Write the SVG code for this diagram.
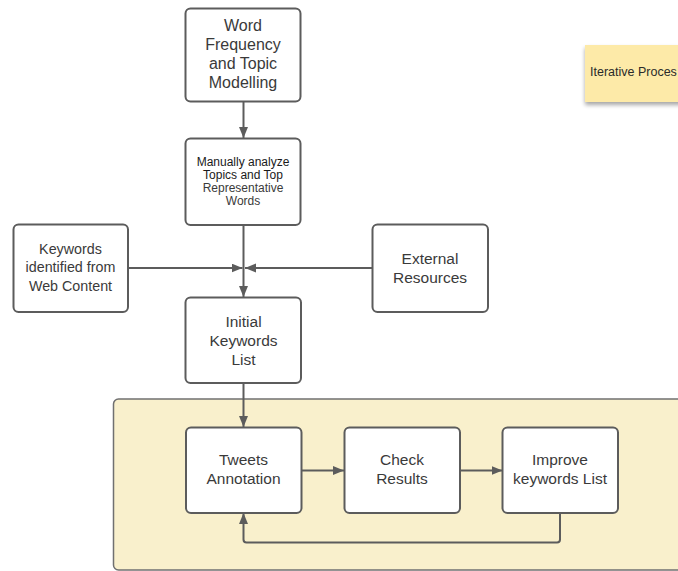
<svg xmlns="http://www.w3.org/2000/svg" width="678" height="571" viewBox="0 0 678 571">
  <defs>
    <marker id="arrow" markerUnits="userSpaceOnUse" markerWidth="12" markerHeight="10" refX="11" refY="4.5" orient="auto">
      <path d="M0,0 L11,4.5 L0,9 Z" fill="#5c5c5c"/>
    </marker>
    <filter id="noteShadow" x="-10%" y="-20%" width="120%" height="150%">
      <feGaussianBlur in="SourceAlpha" stdDeviation="2"/>
      <feOffset dx="0" dy="3"/>
      <feComponentTransfer><feFuncA type="linear" slope="0.35"/></feComponentTransfer>
      <feMerge><feMergeNode/><feMergeNode in="SourceGraphic"/></feMerge>
    </filter>
  </defs>
  <style>
    .box { fill: #ffffff; stroke: #5c5c5c; stroke-width: 2; }
    .lbl { font-family: "Liberation Sans", Arial, sans-serif; font-size: 15.5px; fill: #3a3a3a; text-anchor: middle; dominant-baseline: central; }
    .small { font-size: 12px; }
    .dark { fill: #1a1a1a; }
    .mid { font-size: 14.3px; }
    .conn { fill: none; stroke: #5c5c5c; stroke-width: 2; }
  </style>

  <rect width="678" height="571" fill="#ffffff"/>

  <!-- iteration container -->
  <g id="iteration-area">
    <rect x="113.5" y="399" width="580" height="171" rx="5" fill="#f9f0cc" stroke="#707070" stroke-width="1.5"/>
  </g>

  <!-- sticky note -->
  <g id="note-iterative">
    <rect x="585" y="45" width="100" height="57" fill="#fdeaa8" filter="url(#noteShadow)"/>
    <text x="590" y="72" class="lbl" style="text-anchor:start;font-size:12.5px;fill:#2a2a2a">Iterative Proces</text>
  </g>

  <g id="connectors">
    <path class="conn" d="M243.5,101.5 V138" marker-end="url(#arrow)"/>
    <path class="conn" d="M243.5,225 V297" marker-end="url(#arrow)"/>
    <path class="conn" d="M128,268 H242.5" marker-end="url(#arrow)"/>
    <path class="conn" d="M372,268 H245" marker-end="url(#arrow)"/>
    <path class="conn" d="M243.5,383 V427" marker-end="url(#arrow)"/>
    <path class="conn" d="M302,470.5 H344" marker-end="url(#arrow)"/>
    <path class="conn" d="M460,470.5 H502.5" marker-end="url(#arrow)"/>
    <path class="conn" d="M560,513 V539.5 Q560,542.5 557,542.5 H246.5 Q243.5,542.5 243.5,539.5 V513" marker-end="url(#arrow)"/>
  </g>

  <g id="word-frequency">
    <rect class="box" x="185.5" y="8.5" width="115" height="93" rx="5"/>
    <text class="lbl" style="font-size:16px" x="243" y="25">Word</text>
    <text class="lbl" style="font-size:16px" x="243" y="44">Frequency</text>
    <text class="lbl" style="font-size:16px" x="243" y="63">and Topic</text>
    <text class="lbl" style="font-size:16px" x="243" y="82">Modelling</text>
  </g>

  <g id="manual-analysis">
    <rect class="box" x="185.5" y="138.5" width="115" height="86.5" rx="5"/>
    <text class="lbl small dark" x="243" y="162">Manually analyze</text>
    <text class="lbl small dark" x="243" y="175">Topics and Top</text>
    <text class="lbl small" x="243" y="188">Representative</text>
    <text class="lbl small" x="243" y="201">Words</text>
  </g>

  <g id="web-keywords">
    <rect class="box" x="13.5" y="224.5" width="114.5" height="87.5" rx="5"/>
    <text class="lbl mid" x="70.5" y="248.5">Keywords</text>
    <text class="lbl mid" x="70.5" y="267">identified from</text>
    <text class="lbl mid" x="70.5" y="285.5">Web Content</text>
  </g>

  <g id="external-resources">
    <rect class="box" x="372.5" y="224.5" width="115.5" height="87.5" rx="5"/>
    <text class="lbl" x="430" y="258">External</text>
    <text class="lbl" x="430" y="277">Resources</text>
  </g>

  <g id="initial-keywords">
    <rect class="box" x="185.5" y="297.5" width="115.5" height="85.5" rx="5"/>
    <text class="lbl" x="243.5" y="321">Initial</text>
    <text class="lbl" x="243.5" y="340">Keywords</text>
    <text class="lbl" x="243.5" y="359">List</text>
  </g>

  <g id="tweets-annotation">
    <rect class="box" x="186" y="427.5" width="115.5" height="85.5" rx="5"/>
    <text class="lbl" x="243.5" y="459">Tweets</text>
    <text class="lbl" x="243.5" y="478">Annotation</text>
  </g>

  <g id="check-results">
    <rect class="box" x="344.5" y="427.5" width="115.5" height="85.5" rx="5"/>
    <text class="lbl" x="402" y="459">Check</text>
    <text class="lbl" x="402" y="478">Results</text>
  </g>

  <g id="improve-keywords">
    <rect class="box" x="502.5" y="427.5" width="115.5" height="85.5" rx="5"/>
    <text class="lbl" x="560" y="459">Improve</text>
    <text class="lbl" x="560" y="478">keywords List</text>
  </g>
</svg>
